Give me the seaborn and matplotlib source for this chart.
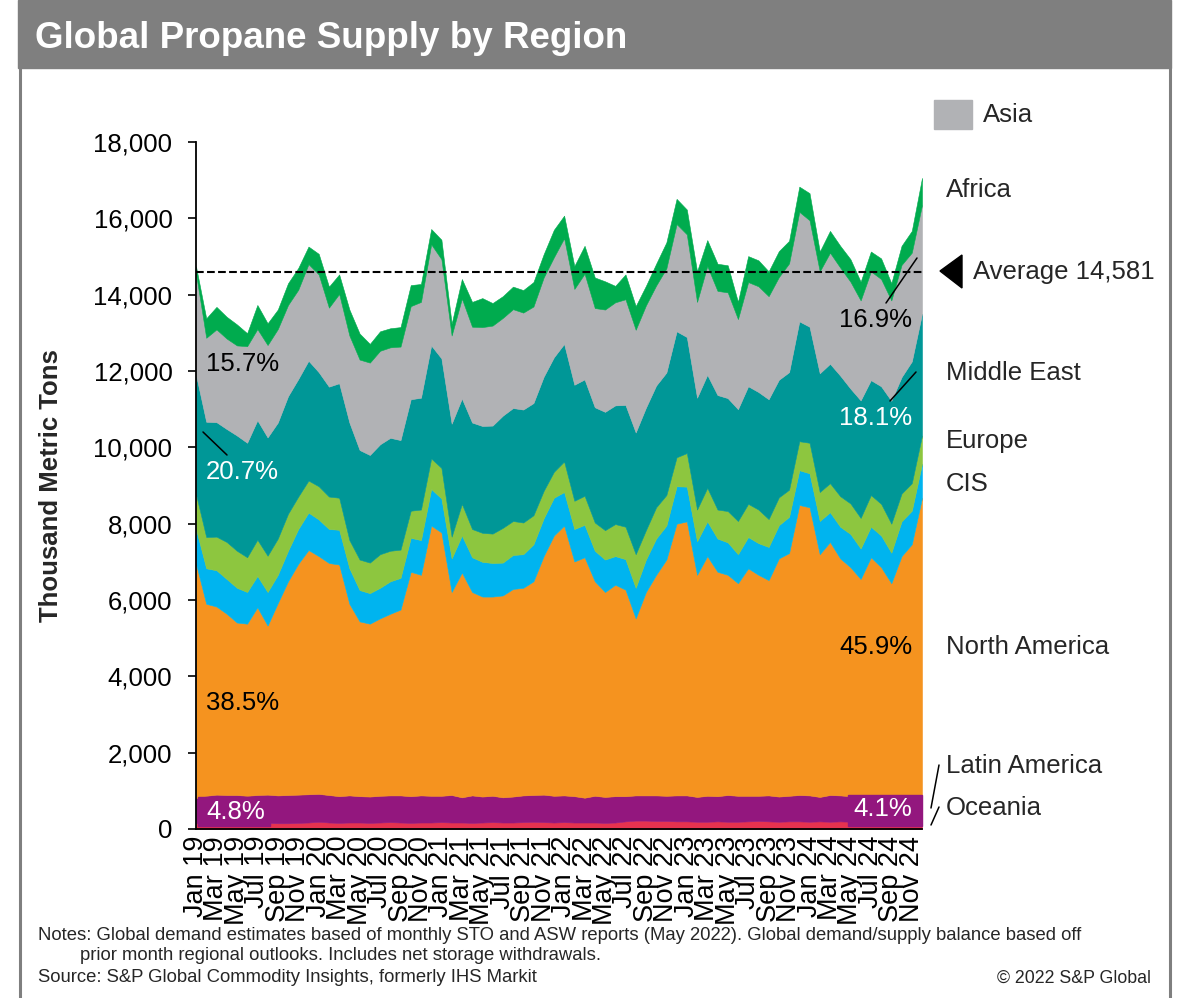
import numpy as np
import pandas as pd
import seaborn as sns
import matplotlib.pyplot as plt
from matplotlib.patches import Rectangle, Polygon
from matplotlib.lines import Line2D

# monthly supply by region, thousand metric tons, Jan 2019 - Dec 2024
months = pd.date_range("2019-01-01", periods=72, freq="MS")

oceania = [150, 150, 160, 150, 150, 140, 150, 160, 150, 150, 160, 170,
           190, 170, 160, 170, 170, 160, 170, 180, 170, 160, 170, 170,
           180, 170, 170, 160, 170, 180, 170, 170, 180, 190, 180, 170,
           180, 170, 170, 170, 160, 170, 200, 220, 220, 210, 210, 200,
           200, 190, 190, 200, 190, 190, 200, 210, 200, 190, 200, 200,
           190, 200, 190, 200, 190, 190, 200, 190, 180, 190, 200, 210]
latin_america = [660, 720, 740, 740, 740, 730, 740, 740, 730, 740, 740, 740,
                 730, 720, 700, 710, 690, 690, 700, 700, 710, 700, 710, 700,
                 690, 720, 660, 720, 680, 690, 660, 680, 700, 700, 720, 700,
                 700, 690, 650, 700, 680, 690, 660, 660, 660, 670, 660, 680,
                 680, 650, 680, 660, 700, 680, 670, 660, 680, 660, 670, 690,
                 690, 640, 700, 680, 670, 660, 680, 700, 690, 680, 690, 640]
north_america = [6140, 5030, 4930, 4750, 4520, 4510, 4920, 4430, 5040, 5600, 6050, 6400,
                 6230, 6080, 6070, 5020, 4580, 4530, 4650, 4760, 4870, 5880, 5780, 7080,
                 6900, 5320, 5890, 5330, 5240, 5220, 5290, 5440, 5440, 5600, 6250, 6820,
                 7070, 6150, 6300, 5620, 5370, 5540, 5410, 4640, 5330, 5780, 6190, 7120,
                 7180, 5820, 6280, 5880, 5770, 5570, 5960, 5790, 5640, 6240, 6360, 7600,
                 7550, 6360, 6630, 6210, 6000, 5700, 6240, 5970, 5570, 6280, 6570, 7830]
cis = [910, 930, 950, 910, 910, 830, 820, 880, 740, 800, 910, 980,
       960, 890, 910, 930, 820, 800, 800, 850, 830, 890, 910, 960,
       890, 880, 970, 910, 910, 880, 860, 890, 880, 970, 990, 990,
       880, 850, 850, 800, 850, 750, 800, 800, 850, 950, 890, 980,
       910, 880, 910, 870, 850, 760, 820, 830, 870, 870, 950, 910,
       890, 870, 780, 830, 870, 800, 800, 830, 800, 910, 880, 890]
europe = [910, 820, 880, 970, 970, 910, 950, 950, 950, 970, 850, 840,
          870, 850, 840, 740, 800, 800, 880, 800, 740, 710, 800, 800,
          800, 570, 830, 740, 760, 770, 910, 890, 830, 760, 720, 680,
          800, 740, 760, 740, 770, 840, 850, 880, 770, 820, 800, 760,
          880, 830, 880, 760, 820, 870, 870, 880, 730, 730, 710, 760,
          800, 760, 760, 800, 800, 800, 830, 830, 760, 730, 720, 740]
middle_east = [3130, 3020, 3000, 2960, 3020, 3000, 3130, 3100, 3040, 3080, 3080, 3140,
               2990, 2880, 3000, 3080, 2870, 2820, 2880, 2960, 2870, 2920, 2930, 2960,
               2870, 2960, 2760, 2790, 2800, 2830, 2940, 2960, 2960, 2940, 2990, 3000,
               3080, 3040, 3050, 3020, 3100, 3110, 3190, 3190, 3210, 3190, 3210, 3300,
               3040, 2930, 2960, 3000, 2960, 2930, 3080, 3080, 3140, 3080, 3080, 3140,
               3040, 3110, 3130, 3160, 3010, 3080, 3010, 3080, 3220, 3050, 3190, 3190]
asia = [2650, 2200, 2430, 2370, 2360, 2530, 2390, 2420, 2450, 2390, 2340, 2530,
        2560, 2070, 2340, 2280, 2370, 2420, 2450, 2370, 2450, 2440, 2510, 2650,
        2600, 2310, 2620, 2510, 2590, 2620, 2560, 2590, 2540, 2530, 2600, 2620,
        2770, 2510, 2770, 2600, 2680, 2700, 2770, 2690, 2680, 2620, 2730, 2810,
        2690, 2510, 2850, 2730, 2770, 2360, 2730, 2770, 2700, 2690, 2850, 2870,
        2790, 2670, 2910, 2830, 2800, 2620, 2850, 2810, 2630, 2940, 2850, 2850]
africa = [190, 510, 590, 570, 550, 340, 630, 570, 510, 570, 570, 460,
          540, 550, 510, 680, 680, 490, 510, 500, 510, 550, 470, 400,
          510, 310, 510, 650, 760, 590, 570, 590, 590, 640, 610, 720,
          590, 600, 730, 800, 740, 430, 650, 620, 510, 570, 680, 660,
          650, 800, 680, 710, 710, 450, 680, 680, 650, 680, 590, 660,
          710, 520, 570, 570, 590, 490, 520, 540, 450, 500, 570, 710]

regions = ["Oceania", "Latin America", "North America", "CIS", "Europe",
           "Middle East", "Asia", "Africa"]
colors = ["#E6324F", "#93177E", "#F5931F", "#00B4EF", "#8DC63F",
          "#009797", "#B1B2B5", "#00AB4E"]
average = 14581

df = pd.DataFrame({"Oceania": oceania, "Latin America": latin_america,
                   "North America": north_america, "CIS": cis, "Europe": europe,
                   "Middle East": middle_east, "Asia": asia, "Africa": africa},
                  index=months)

sns.set_theme(style="ticks")
plt.rcParams['font.family'] = ['Liberation Sans', 'DejaVu Sans']

W, H = 1178, 998
def fx(px):
    return px / W
def fy(py):
    return 1 - py / H

fig = plt.figure(figsize=(W / 100, H / 100), dpi=100)
fig.patch.set_facecolor("white")

# frame and title bar
fig.add_artist(Rectangle((fx(18), fy(68)), fx(1171) - fx(18), fy(0) - fy(68),
                         transform=fig.transFigure, color="#7F7F7F", zorder=0))
for xl in (19.5, 1169.5):
    fig.add_artist(Line2D([fx(xl), fx(xl)], [fy(68), fy(998)], color="#7F7F7F",
                          lw=2.2, zorder=0))
fig.text(fx(35), fy(38), "Global Propane Supply by Region", color="white",
         fontsize=26.5, fontweight="bold", va="center", ha="left")

ax = fig.add_axes([fx(196), fy(829), fx(922) - fx(196), fy(142) - fy(829)])
x = np.arange(len(df))
ax.stackplot(x, df[regions].T.values, colors=colors, lw=0.4,
             edgecolor="face")
sns.lineplot(x=x, y=[average] * len(x), ax=ax, color="black", lw=1.5,
             dashes=(5.5, 3), linestyle="--")

ax.set_xlim(0, len(df) - 1)
ax.set_ylim(0, 18000)
ax.set_yticks(range(0, 18001, 2000))
ax.set_yticklabels([f"{v:,}" for v in range(0, 18001, 2000)])
ax.set_xticks(x[::2])
ax.set_xticklabels([m.strftime("%b %y") for m in months[::2]], rotation=90)
ax.tick_params(axis="x", length=0, pad=5, labelsize=19.5, colors="black")
ax.tick_params(axis="y", length=6, width=1.2, direction="out", pad=11,
               labelsize=18.5, colors="black")
sns.despine(ax=ax)
for s in ("left", "bottom"):
    ax.spines[s].set_color("black")
    ax.spines[s].set_linewidth(1.3)
ax.set_facecolor("white")
ax.set_xlabel("")
ax.set_ylabel("")

fig.text(fx(51), fy(486), "Thousand Metric Tons", rotation=90, fontsize=18.5,
         fontweight="bold", va="center", ha="center")

# right-hand labels
fig.add_artist(Rectangle((fx(934), fy(129)), fx(972) - fx(934), fy(100) - fy(129),
                         transform=fig.transFigure, color=colors[6]))
fig.text(fx(983), fy(115), "Asia", fontsize=18.5, va="center")
for name, py in [("Africa", 190), ("Middle East", 373), ("Europe", 441),
                 ("CIS", 484), ("North America", 647), ("Latin America", 766),
                 ("Oceania", 808)]:
    fig.text(fx(946), fy(py), name, fontsize=18.5, va="center")
fig.add_artist(Polygon([(fx(940), fy(271)), (fx(962), fy(255)), (fx(962), fy(288))],
                       closed=True, transform=fig.transFigure, color="black"))
fig.text(fx(973), fy(272), "Average 14,581", fontsize=18.5, va="center")

# share labels
fig.add_artist(Rectangle((fx(198), fy(826)), fx(270) - fx(198), fy(797) - fy(826),
                         transform=fig.transFigure, color=colors[1]))
fig.add_artist(Rectangle((fx(848), fy(826)), fx(922) - fx(848), fy(795) - fy(826),
                         transform=fig.transFigure, color=colors[1]))
for txt, px, py, col, ha in [("15.7%", 206, 364, "black", "left"),
                             ("20.7%", 206, 472, "white", "left"),
                             ("38.5%", 206, 703, "black", "left"),
                             ("4.8%", 206, 812, "white", "left"),
                             ("16.9%", 912, 320, "black", "right"),
                             ("18.1%", 912, 418, "white", "right"),
                             ("45.9%", 912, 647, "black", "right"),
                             ("4.1%", 912, 809, "white", "right")]:
    fig.text(fx(px), fy(py), txt, color=col, fontsize=18.5, va="center", ha=ha)

for (x0, y0), (x1, y1) in [((203, 432), (227, 455)), ((886, 303), (917, 258)),
                           ((890, 401), (916, 372)), ((939, 765), (931, 808)),
                           ((939, 807), (931, 825))]:
    fig.add_artist(Line2D([fx(x0), fx(x1)], [fy(y0), fy(y1)], color="black", lw=1.1))

fig.text(fx(38), fy(936), "Notes: Global demand estimates based of monthly STO and ASW "
         "reports (May 2022). Global demand/supply balance based off", fontsize=13.3,
         va="center")
fig.text(fx(80), fy(956), "prior month regional outlooks. Includes net storage withdrawals.",
         fontsize=13.3, va="center")
fig.text(fx(38), fy(978), "Source: S&P Global Commodity Insights, formerly IHS Markit",
         fontsize=13.3, va="center")
fig.text(fx(1151), fy(978), "\u00a9 2022 S&P Global", fontsize=12.8, va="center",
         ha="right")

fig.savefig("out.png", dpi=100, facecolor="white")
